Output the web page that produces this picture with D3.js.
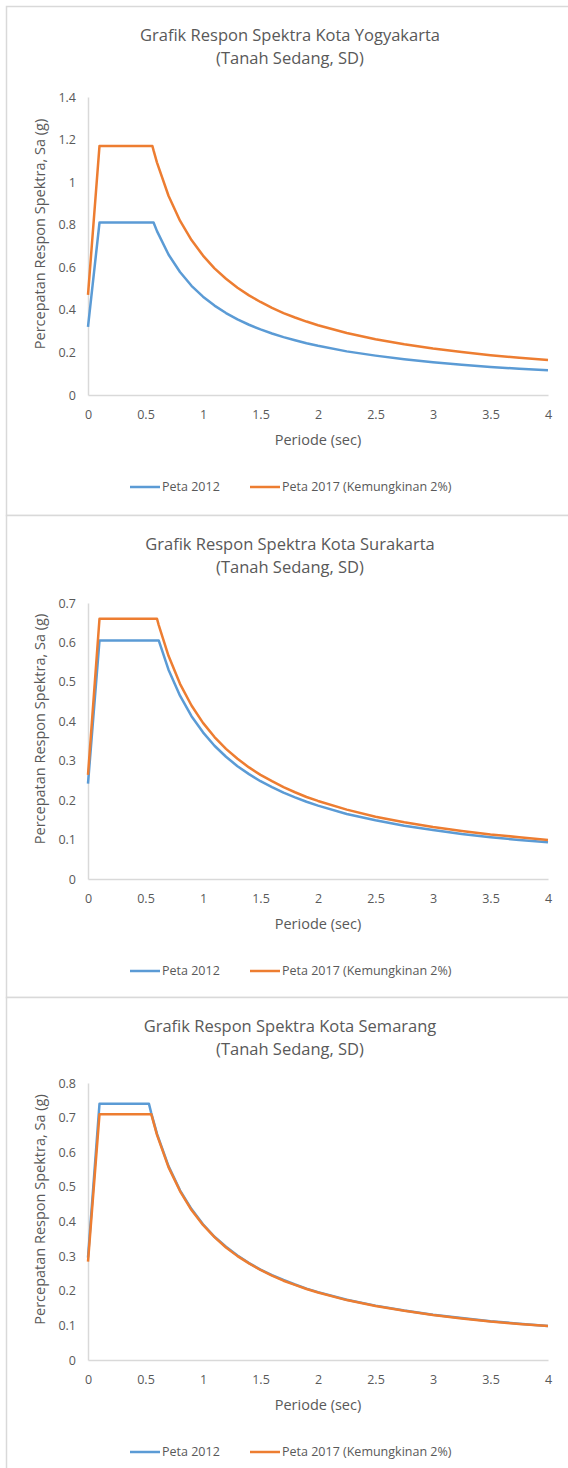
<!DOCTYPE html>
<html lang="en">
<head>
    <meta charset="UTF-8">
    <title>Grafik Respon Spektra</title>
    <script src="https://d3js.org/d3.v7.min.js"></script>
    <style>
        body { margin: 0; background: #fff; }
        svg text { font-family: "Open Sans", sans-serif; fill: #595959; }
    </style>
</head>
<body>

    <script>
        // Periods (sec) and Sa (g) values
        const periodsYogya = [0, 0.1, 0.56, 0.57, 0.6, 0.7, 0.8, 0.9, 1.0, 1.1, 1.2, 1.3, 1.4, 1.5, 1.6, 1.7, 1.8, 1.9, 2.0, 2.25, 2.5, 2.75, 3.0, 3.25, 3.5, 3.75, 4.0];
        const yogya2012 = [0.32, 0.81, 0.81, 0.81, 0.77, 0.66, 0.578, 0.513, 0.462, 0.42, 0.385, 0.355, 0.33, 0.308, 0.289, 0.272, 0.257, 0.243, 0.231, 0.205, 0.185, 0.168, 0.154, 0.142, 0.132, 0.123, 0.116];
        const yogya2017 = [0.47, 1.17, 1.17, 1.149, 1.092, 0.936, 0.819, 0.728, 0.655, 0.595, 0.546, 0.504, 0.468, 0.437, 0.409, 0.385, 0.364, 0.345, 0.328, 0.291, 0.262, 0.238, 0.218, 0.202, 0.187, 0.175, 0.164];

        const periodsSolo = [0, 0.1, 0.6, 0.615, 0.7, 0.8, 0.9, 1.0, 1.1, 1.2, 1.3, 1.4, 1.5, 1.6, 1.7, 1.8, 1.9, 2.0, 2.25, 2.5, 2.75, 3.0, 3.25, 3.5, 3.75, 4.0];
        const solo2012 = [0.242, 0.605, 0.605, 0.605, 0.531, 0.465, 0.413, 0.372, 0.338, 0.31, 0.286, 0.266, 0.248, 0.233, 0.219, 0.207, 0.196, 0.186, 0.165, 0.149, 0.135, 0.124, 0.114, 0.106, 0.099, 0.093];
        const solo2017 = [0.264, 0.66, 0.66, 0.644, 0.566, 0.495, 0.44, 0.396, 0.36, 0.33, 0.305, 0.283, 0.264, 0.248, 0.233, 0.22, 0.208, 0.198, 0.176, 0.158, 0.144, 0.132, 0.122, 0.113, 0.106, 0.099];

        const periodsSmg = [0, 0.1, 0.53, 0.55, 0.6, 0.7, 0.8, 0.9, 1.0, 1.1, 1.2, 1.3, 1.4, 1.5, 1.6, 1.7, 1.8, 1.9, 2.0, 2.25, 2.5, 2.75, 3.0, 3.25, 3.5, 3.75, 4.0];
        const smg2012 = [0.296, 0.74, 0.74, 0.713, 0.653, 0.56, 0.49, 0.436, 0.392, 0.356, 0.327, 0.302, 0.28, 0.261, 0.245, 0.231, 0.218, 0.206, 0.196, 0.174, 0.157, 0.143, 0.131, 0.121, 0.112, 0.105, 0.098];
        const smg2017 = [0.284, 0.71, 0.71, 0.71, 0.65, 0.557, 0.488, 0.433, 0.39, 0.355, 0.325, 0.3, 0.279, 0.26, 0.244, 0.229, 0.217, 0.205, 0.195, 0.173, 0.156, 0.142, 0.13, 0.12, 0.111, 0.104, 0.098];

        // Axis ticks and labels
        const xTicks = [0, 0.5, 1, 1.5, 2, 2.5, 3, 3.5, 4];
        const yTicksYogya = [0, 0.2, 0.4, 0.6, 0.8, 1, 1.2, 1.4];
        const yTicksSolo = [0, 0.1, 0.2, 0.3, 0.4, 0.5, 0.6, 0.7];
        const yTicksSmg = [0, 0.1, 0.2, 0.3, 0.4, 0.5, 0.6, 0.7, 0.8];
        const seriesNames = ['Peta 2012', 'Peta 2017 (Kemungkinan 2%)'];
        const titles = ['Grafik Respon Spektra Kota Yogyakarta', 'Grafik Respon Spektra Kota Surakarta', 'Grafik Respon Spektra Kota Semarang'];
        const subtitle = '(Tanah Sedang, SD)';

        const colors = ['#5b9bd5', '#ed7d31'];

        const svg = d3.select('body')
            .append('svg')
            .attr('width', 568)
            .attr('height', 1468);

        function drawPanel(p) {
            const g = svg.append('g').attr('transform', 'translate(0,' + p.top + ')');

            // chart border
            g.append('rect')
                .attr('x', 6.5).attr('y', 0.5)
                .attr('width', 600).attr('height', p.height)
                .attr('fill', '#fff')
                .attr('stroke', '#d9d9d9')
                .attr('stroke-width', 1.5);

            // title
            g.append('text').attr('x', 290).attr('y', 29).attr('dy', '0.35em')
                .style('text-anchor', 'middle').style('font-size', '16.5px').text(p.title);
            g.append('text').attr('x', 290).attr('y', 52).attr('dy', '0.35em')
                .style('text-anchor', 'middle').style('font-size', '16.5px').text(subtitle);

            const xScale = d3.scaleLinear().domain([0, 4]).range([88, 548]);
            const yScale = d3.scaleLinear().domain([0, p.yMax]).range([p.plotBottom, p.plotTop]);

            // y axis
            const yAxis = g.append('g')
                .attr('transform', 'translate(88,0)')
                .call(d3.axisLeft(yScale).tickValues(p.yTicks).tickSize(0).tickPadding(12).tickFormat(d3.format('~g')));
            yAxis.select('.domain').attr('stroke', '#d9d9d9').attr('stroke-width', 1.5);
            yAxis.selectAll('text').style('font-size', '12.5px');

            // x axis
            const xAxis = g.append('g')
                .attr('transform', 'translate(0,' + p.plotBottom + ')')
                .call(d3.axisBottom(xScale).tickValues(xTicks).tickSize(0).tickPadding(15).tickFormat(d3.format('~g')));
            xAxis.select('.domain').attr('stroke', '#d9d9d9').attr('stroke-width', 1.5);
            xAxis.selectAll('text').style('font-size', '12.5px');

            // axis titles
            g.append('text')
                .attr('x', 318).attr('y', p.plotBottom + 45).attr('dy', '0.35em')
                .style('text-anchor', 'middle').style('font-size', '14.5px')
                .text('Periode (sec)');
            g.append('text')
                .attr('transform', 'translate(40,' + ((p.plotTop + p.plotBottom) / 2 - 12) + ') rotate(-90)')
                .attr('dy', '0.35em')
                .style('text-anchor', 'middle').style('font-size', '14.5px')
                .text('Percepatan Respon Spektra, Sa (g)');

            // lines
            const line = d3.line()
                .x(d => xScale(d[0]))
                .y(d => yScale(d[1]));
            p.series.forEach((vals, i) => {
                g.append('path')
                    .datum(p.periods.map((t, j) => [t, vals[j]]))
                    .attr('d', line)
                    .attr('fill', 'none')
                    .attr('stroke', colors[i])
                    .attr('stroke-width', 2.5)
                    .attr('stroke-linejoin', 'round');
            });

            // legend
            const legY = p.plotBottom + 92;
            const legX = [130, 250];
            seriesNames.forEach((name, i) => {
                g.append('line')
                    .attr('x1', legX[i]).attr('x2', legX[i] + 30)
                    .attr('y1', legY).attr('y2', legY)
                    .attr('stroke', colors[i]).attr('stroke-width', 2.5);
                g.append('text')
                    .attr('x', legX[i] + 32).attr('y', legY).attr('dy', '0.35em')
                    .style('font-size', '12.5px')
                    .text(name);
            });
        }

        drawPanel({ top: 6, height: 509, plotTop: 91, plotBottom: 389, yMax: 1.4, yTicks: yTicksYogya,
            title: titles[0], periods: periodsYogya, series: [yogya2012, yogya2017] });
        drawPanel({ top: 515, height: 482, plotTop: 88, plotBottom: 364, yMax: 0.7, yTicks: yTicksSolo,
            title: titles[1], periods: periodsSolo, series: [solo2012, solo2017] });
        drawPanel({ top: 997, height: 482, plotTop: 86, plotBottom: 363, yMax: 0.8, yTicks: yTicksSmg,
            title: titles[2], periods: periodsSmg, series: [smg2012, smg2017] });
    </script>

</body>
</html>
